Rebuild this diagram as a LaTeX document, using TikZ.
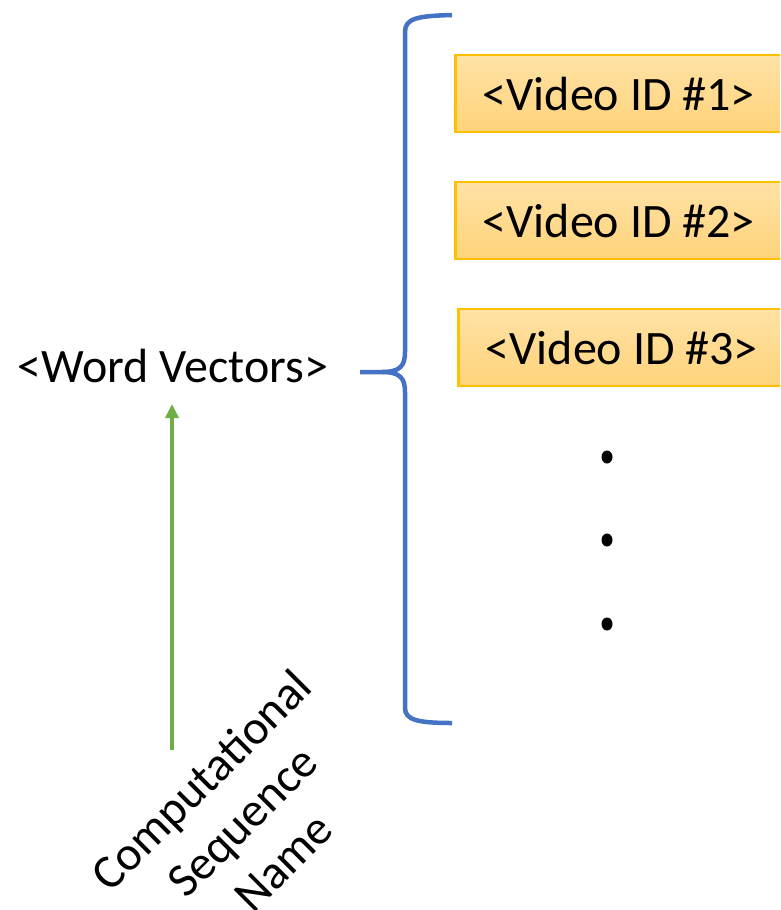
\documentclass[tikz,border=0pt]{standalone}
\usepackage{fontspec}
\setmainfont{Carlito}
\usetikzlibrary{arrows.meta}
\definecolor{bracecol}{HTML}{4472C4}
\definecolor{arrcol}{HTML}{70AD47}
\definecolor{boxline}{HTML}{FFC000}
\definecolor{boxtop}{HTML}{FFE2A6}
\definecolor{boxbot}{HTML}{FFD37A}
\newcommand{\bigtext}{\fontsize{48}{58}\selectfont}
\tikzset{
 vidbox/.style={draw=boxline,line width=2.5pt,top color=boxtop,bottom color=boxbot,
   minimum width=327pt,minimum height=77pt,inner sep=0pt,anchor=west,font=\bigtext},
 brace/.style={draw=bracecol,line width=4.5pt},
 seqarrow/.style={draw=arrcol,line width=4pt,-{Triangle[length=14pt,width=13pt]}}
}
\begin{document}
\begin{tikzpicture}[x=1pt,y=-1pt]
 \useasboundingbox (0,0) rectangle (780,910);
 \clip (0,0) rectangle (780,910);
 %
 \node[font=\bigtext,inner sep=0pt] (wordvec) at (173,366) {<Word Vectors>};
 \node[font=\bigtext,rotate=45,align=center,inner sep=0pt] (csname) at (242,821)
   {Computational\\Sequence\\Name};
 %
 \node[vidbox] (vid1) at (454,93.5) {<Video ID \#1>};
 \node[vidbox] (vid2) at (454,220.5) {<Video ID \#2>};
 \node[vidbox] (vid3) at (457,347.5) {<Video ID \#3>};
 %
 \foreach \y in {457,540,624}
  \fill (607,\y) ellipse (5.5 and 6.5);
 %
 \draw[brace] (452,15) .. controls (418,16) and (405,18) .. (405,32) -- (405,352)
   .. controls (405,366) and (400,372) .. (382,372) -- (360,372);
 \draw[brace] (382,372) .. controls (400,372) and (405,378) .. (405,392) -- (405,708)
   .. controls (405,720) and (418,723) .. (452,723);
 %
 \coordinate (arrstart) at (172,750);
 \draw[seqarrow] (arrstart) -- (arrstart |- 0,404);
\end{tikzpicture}
\end{document}
